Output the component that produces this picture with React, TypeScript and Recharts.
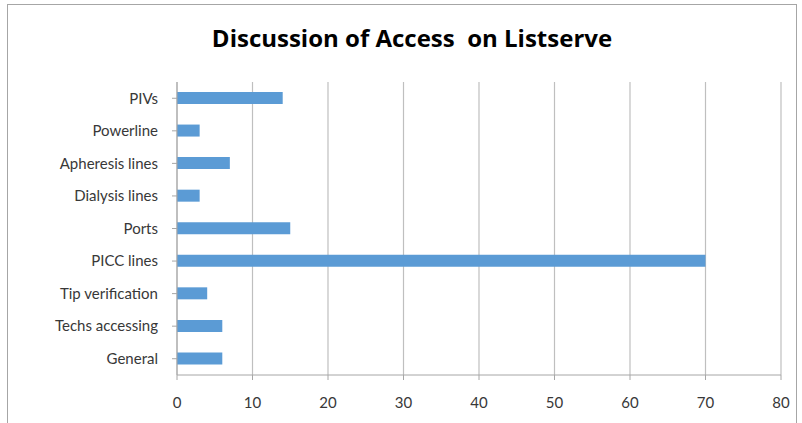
import React from 'react';
import { BarChart, Bar, XAxis, YAxis, CartesianGrid } from 'recharts';

const categories = [
  'PIVs',
  'Powerline',
  'Apheresis lines',
  'Dialysis lines',
  'Ports',
  'PICC lines',
  'Tip verification',
  'Techs accessing',
  'General',
];
const counts = [14, 3, 7, 3, 15, 70, 4, 6, 6];
const xTicks = [0, 10, 20, 30, 40, 50, 60, 70, 80];

const data = categories.map((name, i) => ({ name, value: counts[i] }));

const labelFont = { fontFamily: 'Lato, "Open Sans", sans-serif', fontSize: 15, fill: '#383838' };

const App: React.FC = () => {
  return (
    <div style={{ position: 'relative', width: 802, height: 423, background: '#fff', overflow: 'hidden' }}>
      <style>{'body{margin:0}'}</style>
      <div
        style={{
          position: 'absolute',
          left: 7,
          top: 4,
          width: 790,
          height: 440,
          border: '1px solid #a6a6a6',
          boxSizing: 'border-box',
        }}
      />
      <div
        style={{
          position: 'absolute',
          top: 22,
          left: 0,
          width: 824,
          textAlign: 'center',
          fontFamily: '"Open Sans", Lato, sans-serif',
          fontWeight: 700,
          fontSize: 24,
          lineHeight: '32px',
          color: '#000',
          whiteSpace: 'pre',
        }}
      >
        {'Discussion of Access  on Listserve'}
      </div>
      <BarChart
        width={802}
        height={423}
        data={data}
        layout="vertical"
        margin={{ top: 82, right: 21, bottom: 18, left: 10 }}
        barCategoryGap="63%"
        style={{ position: 'absolute', left: 0, top: 0 }}
      >
        <CartesianGrid horizontal={false} stroke="#bfbfbf" strokeWidth={1.2} />
        <XAxis
          type="number"
          domain={[0, 80]}
          ticks={xTicks}
          interval={0}
          stroke="#a6a6a6"
          tickSize={5}
          tickMargin={17}
          tick={labelFont}
        />
        <YAxis
          type="category"
          dataKey="name"
          width={167}
          stroke="#a6a6a6"
          tickSize={5}
          tickMargin={14}
          interval={0}
          tick={labelFont}
        />
        <Bar dataKey="value" fill="#5B9BD5" barSize={12} isAnimationActive={false} />
      </BarChart>
    </div>
  );
};

export default App;
